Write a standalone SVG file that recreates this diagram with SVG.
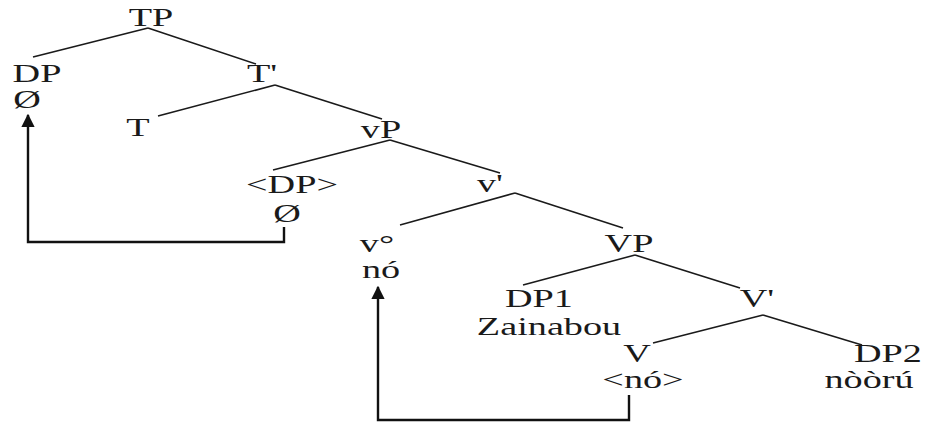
<svg xmlns="http://www.w3.org/2000/svg" width="925" height="423" viewBox="0 0 925 423">
<style>
text{font-family:"Liberation Serif","Times New Roman",serif;font-size:26px;fill:#1a1a1a;text-anchor:middle}
.br{stroke:#1a1a1a;stroke-width:1.6;fill:none}
.mv{stroke:#111;stroke-width:2.4;fill:none}
</style>
<defs>
<marker id="ah" viewBox="0 0 10 10" refX="9" refY="5" markerWidth="5.5" markerHeight="5.5" orient="auto" markerUnits="strokeWidth">
<path d="M0,0 L10,5 L0,10 Z" fill="#111"/>
</marker>
</defs>
<rect width="925" height="423" fill="#fff"/>
<g id="connectors">
<line class="br" x1="148" y1="28" x2="33" y2="57"/>
<line class="br" x1="148" y1="28" x2="256" y2="64"/>
<line class="br" x1="275" y1="85" x2="158" y2="116"/>
<line class="br" x1="275" y1="85" x2="382" y2="119"/>
<line class="br" x1="390" y1="140" x2="273" y2="170"/>
<line class="br" x1="390" y1="140" x2="500" y2="173"/>
<line class="br" x1="515" y1="193" x2="400" y2="225"/>
<line class="br" x1="515" y1="193" x2="623" y2="228"/>
<line class="br" x1="635" y1="255" x2="523" y2="285"/>
<line class="br" x1="635" y1="255" x2="740" y2="288"/>
<line class="br" x1="763" y1="315" x2="653" y2="343"/>
<line class="br" x1="763" y1="315" x2="862" y2="345"/>
<path class="mv" d="M284,227 V242 H28 V115" marker-end="url(#ah)"/>
<path class="mv" d="M629,395 V420 H378 V287" marker-end="url(#ah)"/>
</g>
<g id="TP"><text transform="translate(151,26) scale(1.47,1)">TP</text></g>
<g id="DP"><text transform="translate(37,82) scale(1.47,1)">DP</text><text transform="translate(27,108) scale(1.47,1)">Ø</text></g>
<g id="Tbar"><text transform="translate(262,82) scale(1.47,1)">T'</text></g>
<g id="T"><text transform="translate(138,136) scale(1.47,1)">T</text></g>
<g id="vP"><text transform="translate(381,138) scale(1.47,1)">vP</text></g>
<g id="DPtrace"><text transform="translate(292,193) scale(1.47,1)">&lt;DP&gt;</text><text transform="translate(287,222) scale(1.47,1)">Ø</text></g>
<g id="vbar"><text transform="translate(490,192) scale(1.47,1)">v'</text></g>
<g id="v0"><text transform="translate(377,252) scale(1.47,1)">v°</text><text transform="translate(381,278) scale(1.47,1)">nó</text></g>
<g id="VP"><text transform="translate(629,252) scale(1.47,1)">VP</text></g>
<g id="DP1"><text transform="translate(539,307) scale(1.47,1)">DP1</text><text transform="translate(549,335) scale(1.47,1)">Zainabou</text></g>
<g id="Vbar"><text transform="translate(757,307) scale(1.47,1)">V'</text></g>
<g id="V"><text transform="translate(637,362) scale(1.47,1)">V</text><text transform="translate(643,388) scale(1.47,1)">&lt;nó&gt;</text></g>
<g id="DP2"><text transform="translate(888,362) scale(1.47,1)">DP2</text><text transform="translate(869,388) scale(1.47,1)">nòòrú</text></g>
</svg>
